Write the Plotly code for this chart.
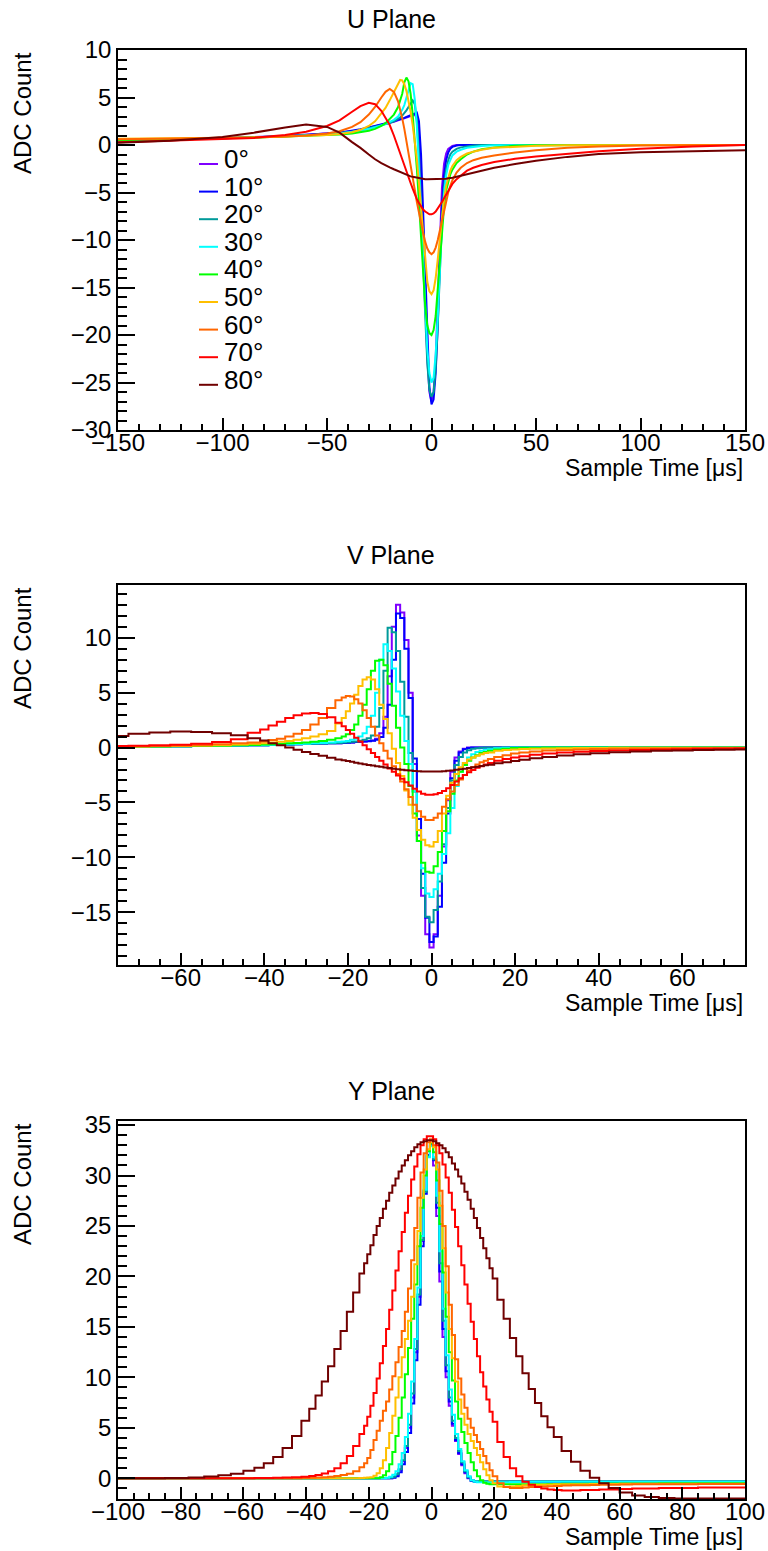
import plotly.graph_objects as go

W, H = 768, 1551
FONT = "Liberation Sans"

ANGLES = ["0°", "10°", "20°", "30°", "40°", "50°", "60°", "70°", "80°"]
COLORS = ["#7f00ff", "#0000ff", "#009a9a", "#00ffff", "#00ff00",
          "#ffbf00", "#ff6600", "#ff0000", "#700000"]

# ---------------- U plane (sample time in us, ADC counts) ----------------
U_T = [-150, -125, -100, -85, -70, -60, -50, -44, -38, -34,
       -30, -27, -24, -22, -20, -18, -16, -15, -14, -13,
       -12, -11, -10, -9, -8, -7, -6, -5, -4, -3,
       -2, -1, 0, 1, 2, 3, 4, 5, 6, 7,
       8, 9, 10, 12, 14, 17, 20, 24, 30, 40,
       50, 65, 80, 100, 125, 150]

U_00 = [0.4, 0.55, 0.7, 0.8, 0.95, 1.05, 1.2, 1.3, 1.45, 1.6,
        1.8, 1.95, 2.1, 2.2, 2.3, 2.45, 2.6, 2.65, 2.75, 2.8,
        2.9, 3.0, 3.05, 3.1, 3.2, 2.8, 1.0, -3.0, -9.0, -16.0,
        -22.5, -26.0, -27.0, -26.0, -22.5, -16.5, -9.5, -4.5, -2.0, -0.9,
        -0.4, -0.2, -0.1, 0, 0, 0, 0, 0, 0, 0,
        0, 0, 0, 0, 0, 0]
U_10 = [0.45, 0.55, 0.7, 0.8, 0.95, 1.05, 1.2, 1.3, 1.5, 1.65,
        1.85, 2.0, 2.15, 2.25, 2.4, 2.5, 2.65, 2.7, 2.8, 2.85,
        2.95, 3.05, 3.15, 3.25, 3.35, 3.4, 2.5, -1.0, -7.0, -14.0,
        -21.0, -25.5, -27.3, -26.8, -24.0, -19.0, -12.0, -6.5, -3.2, -1.6,
        -0.8, -0.4, -0.2, -0.05, 0, 0, 0, 0, 0, 0,
        0, 0, 0, 0, 0, 0]
U_20 = [0.45, 0.55, 0.7, 0.8, 0.9, 1.0, 1.15, 1.25, 1.4, 1.55,
        1.75, 1.9, 2.05, 2.15, 2.3, 2.5, 2.75, 2.9, 3.1, 3.35,
        3.65, 4.0, 4.4, 4.7, 4.3, 2.5, -1.0, -6.0, -12.0, -18.0,
        -23.0, -25.8, -26.5, -26.0, -23.5, -19.0, -13.0, -8.0, -4.5, -2.6,
        -1.6, -1.0, -0.7, -0.4, -0.25, -0.12, -0.05, 0, 0, 0,
        0, 0, 0, 0, 0, 0]
U_30 = [0.5, 0.55, 0.7, 0.8, 0.9, 1.0, 1.1, 1.2, 1.35, 1.5,
        1.7, 1.85, 2.05, 2.2, 2.4, 2.65, 3.0, 3.3, 3.7, 4.2,
        4.9, 5.8, 6.5, 6.4, 4.8, 2.0, -2.0, -7.0, -12.0, -17.0,
        -21.5, -24.0, -25.0, -24.5, -22.0, -18.0, -13.0, -8.5, -5.2, -3.2,
        -2.1, -1.5, -1.1, -0.7, -0.5, -0.3, -0.2, -0.1, -0.03, 0,
        0, 0, 0, 0, 0, 0]
U_40 = [0.5, 0.6, 0.75, 0.8, 0.9, 0.95, 1.05, 1.1, 1.2, 1.35,
        1.5, 1.7, 2.0, 2.3, 2.7, 3.2, 4.0, 4.6, 5.4, 6.6,
        7.1, 6.7, 5.4, 3.2, 0.5, -2.5, -6.0, -10.0, -14.0, -17.0,
        -19.0, -19.8, -20.0, -19.5, -18.0, -15.0, -12.0, -9.0, -6.5, -4.8,
        -3.8, -3.1, -2.6, -1.9, -1.5, -1.0, -0.7, -0.45, -0.25, -0.08,
        -0.02, 0, 0, 0, 0, 0]
U_50 = [0.65, 0.7, 0.75, 0.8, 0.9, 0.95, 1.05, 1.15, 1.35, 1.6,
        2.0, 2.5, 3.3, 3.9, 4.7, 5.6, 6.4, 6.85, 6.8, 6.4,
        5.7, 4.7, 3.5, 2.1, 0.5, -1.5, -4.0, -6.8, -9.8, -12.5,
        -14.4, -15.4, -15.7, -15.3, -14.0, -12.0, -9.8, -7.6, -5.7, -4.3,
        -3.4, -2.7, -2.2, -1.6, -1.25, -0.9, -0.7, -0.5, -0.3, -0.15,
        -0.07, -0.02, 0, 0, 0, 0]
U_60 = [0.6, 0.65, 0.7, 0.8, 0.9, 1.0, 1.2, 1.45, 1.9, 2.4,
        3.2, 4.0, 5.0, 5.6, 5.9, 5.6, 4.6, 3.8, 2.8, 1.7,
        0.5, -0.8, -2.1, -3.4, -4.7, -6.0, -7.2, -8.3, -9.3, -10.2,
        -10.9, -11.3, -11.5, -11.3, -10.8, -10.0, -9.0, -7.9, -6.8, -5.8,
        -5.0, -4.3, -3.7, -2.9, -2.4, -1.9, -1.6, -1.35, -1.1, -0.8,
        -0.55, -0.3, -0.15, -0.05, 0, 0]
U_70 = [0.3, 0.45, 0.6, 0.75, 1.05, 1.4, 2.0, 2.6, 3.5, 4.1,
        4.45, 4.3, 3.6, 2.9, 2.1, 1.0, -0.3, -0.9, -1.5, -2.1,
        -2.8, -3.4, -4.0, -4.6, -5.2, -5.7, -6.1, -6.5, -6.8, -7.0,
        -7.2, -7.3, -7.3, -7.2, -7.0, -6.7, -6.4, -6.0, -5.6, -5.2,
        -4.8, -4.4, -4.1, -3.6, -3.2, -2.7, -2.4, -2.1, -1.8, -1.45,
        -1.2, -0.9, -0.65, -0.4, -0.15, 0.0]
U_80 = [0.25, 0.45, 0.85, 1.3, 1.85, 2.15, 1.9, 1.3, 0.3, -0.3,
        -1.0, -1.5, -1.9, -2.15, -2.35, -2.55, -2.75, -2.85, -2.95, -3.05,
        -3.15, -3.2, -3.3, -3.35, -3.4, -3.45, -3.5, -3.55, -3.55, -3.6,
        -3.6, -3.6, -3.6, -3.6, -3.6, -3.6, -3.6, -3.6, -3.55, -3.55,
        -3.5, -3.5, -3.45, -3.35, -3.25, -3.1, -2.95, -2.7, -2.4, -2.0,
        -1.65, -1.25, -0.95, -0.75, -0.62, -0.55]

# ---------------- V plane ----------------
V_T = [-75, -70, -65, -60, -55, -50, -46, -42, -40, -38,
       -36, -34, -32, -30, -28, -26, -24, -22, -21, -20,
       -19, -18, -17, -16, -15, -14, -13, -12, -11, -10,
       -9, -8, -7, -6, -5, -4, -3, -2, -1, 0,
       1, 2, 3, 4, 5, 6, 7, 8, 9, 10,
       11, 12, 13, 14, 16, 18, 20, 22, 25, 28,
       32, 36, 40, 45, 50, 55, 60, 65, 70, 75]

V_00 = [0.1, 0.1, 0.1, 0.12, 0.14, 0.16, 0.18, 0.2, 0.22, 0.24,
        0.26, 0.28, 0.3, 0.32, 0.34, 0.36, 0.38, 0.4, 0.42, 0.44,
        0.46, 0.5, 0.52, 0.55, 0.6, 0.65, 0.8, 1.3, 2.8, 6.5,
        11.0, 13.0, 12.3, 9.8, 5.0, -1.5, -8.0, -13.5, -17.0, -18.2,
        -17.0, -13.5, -9.0, -4.8, -2.2, -0.9, -0.35, -0.1, 0, 0,
        0, 0, 0, 0, 0, 0, 0, 0, 0, 0,
        0, 0, 0, 0, 0, 0, 0, 0, 0, 0]
V_10 = [0.1, 0.1, 0.1, 0.12, 0.14, 0.16, 0.18, 0.2, 0.22, 0.24,
        0.26, 0.28, 0.3, 0.32, 0.34, 0.36, 0.38, 0.4, 0.42, 0.44,
        0.46, 0.5, 0.52, 0.55, 0.58, 0.62, 0.7, 0.95, 1.8, 3.9,
        8.0, 12.2, 11.8, 9.0, 4.5, -1.0, -6.5, -11.5, -15.5, -17.7,
        -17.2, -14.5, -10.5, -6.0, -2.8, -1.2, -0.45, -0.15, -0.05, 0,
        0, 0, 0, 0, 0, 0, 0, 0, 0, 0,
        0, 0, 0, 0, 0, 0, 0, 0, 0, 0]
V_20 = [0.1, 0.1, 0.1, 0.12, 0.14, 0.16, 0.18, 0.2, 0.22, 0.24,
        0.26, 0.28, 0.3, 0.32, 0.34, 0.36, 0.38, 0.42, 0.45, 0.48,
        0.52, 0.56, 0.62, 0.7, 0.85, 1.1, 1.9, 3.6, 7.0, 10.9,
        10.5, 8.8, 6.0, 2.8, -0.5, -4.0, -8.5, -12.8, -15.4, -15.9,
        -14.8, -12.2, -8.8, -5.5, -3.0, -1.6, -0.85, -0.45, -0.25, -0.12,
        -0.06, -0.03, 0, 0, 0, 0, 0, 0, 0, 0,
        0, 0, 0, 0, 0, 0, 0, 0, 0, 0]
V_30 = [0.1, 0.1, 0.1, 0.12, 0.14, 0.16, 0.18, 0.2, 0.22, 0.25,
        0.27, 0.3, 0.32, 0.35, 0.38, 0.42, 0.46, 0.52, 0.56, 0.6,
        0.7, 0.8, 1.0, 1.3, 1.9, 2.9, 5.0, 8.0, 9.4, 8.8,
        7.2, 5.1, 2.9, 0.6, -1.5, -4.0, -7.5, -11.0, -13.3, -13.6,
        -12.9, -11.5, -9.7, -7.8, -5.5, -3.5, -2.2, -1.4, -0.9, -0.6,
        -0.4, -0.3, -0.2, -0.15, -0.07, -0.03, 0, 0, 0, 0,
        0, 0, 0, 0, 0, 0, 0, 0, 0, 0]
V_40 = [0.1, 0.1, 0.1, 0.12, 0.14, 0.16, 0.2, 0.24, 0.27, 0.3,
        0.34, 0.38, 0.42, 0.47, 0.52, 0.6, 0.7, 0.85, 1.0, 1.2,
        1.6, 2.1, 2.9, 3.9, 5.3, 7.0, 7.9, 8.0, 7.5, 5.8,
        3.8, 1.8, 0.0, -1.5, -3.5, -6.0, -8.5, -10.5, -11.3, -11.4,
        -10.8, -9.5, -7.6, -5.8, -4.2, -3.0, -2.2, -1.6, -1.2, -0.9,
        -0.7, -0.5, -0.4, -0.3, -0.18, -0.1, -0.05, -0.03, -0.02, 0,
        0, 0, 0, 0, 0, 0, 0, 0, 0, 0]
V_50 = [0.1, 0.1, 0.12, 0.14, 0.18, 0.22, 0.28, 0.35, 0.4, 0.45,
        0.52, 0.6, 0.7, 0.85, 1.0, 1.2, 1.5, 2.2, 2.7, 3.3,
        4.0, 4.8, 5.6, 6.2, 6.4, 6.2, 5.3, 3.9, 2.6, 1.3,
        -0.1, -1.4, -2.6, -3.9, -5.2, -6.4, -7.5, -8.4, -8.9, -9.0,
        -8.6, -7.6, -6.0, -4.4, -3.2, -2.4, -1.8, -1.4, -1.1, -0.9,
        -0.75, -0.6, -0.5, -0.45, -0.3, -0.22, -0.18, -0.14, -0.1, -0.08,
        -0.06, -0.05, -0.04, -0.03, -0.03, -0.02, -0.02, -0.02, -0.02, -0.02]
V_60 = [0.1, 0.12, 0.15, 0.18, 0.22, 0.3, 0.38, 0.45, 0.55, 0.68,
        0.8, 1.0, 1.25, 1.6, 2.1, 2.7, 3.6, 4.3, 4.55, 4.7,
        4.65, 4.4, 4.0, 3.4, 2.7, 1.9, 1.1, 0.4, -0.3, -1.0,
        -1.7, -2.4, -3.1, -3.8, -4.5, -5.2, -5.8, -6.3, -6.6, -6.6,
        -6.4, -6.0, -5.4, -4.7, -4.0, -3.4, -2.9, -2.5, -2.1, -1.8,
        -1.55, -1.35, -1.2, -1.05, -0.85, -0.7, -0.55, -0.45, -0.35, -0.28,
        -0.22, -0.17, -0.14, -0.11, -0.09, -0.08, -0.07, -0.06, -0.05, -0.05]
V_70 = [0.15, 0.17, 0.2, 0.25, 0.35, 0.5, 0.75, 1.35, 1.65, 2.0,
        2.35, 2.7, 2.95, 3.1, 3.15, 3.05, 2.75, 2.25, 1.95, 1.6,
        1.25, 0.9, 0.55, 0.2, -0.15, -0.5, -0.85, -1.2, -1.55, -1.9,
        -2.2, -2.55, -2.85, -3.15, -3.45, -3.75, -4.0, -4.2, -4.3, -4.3,
        -4.25, -4.15, -3.95, -3.7, -3.4, -3.1, -2.8, -2.5, -2.25, -2.05,
        -1.85, -1.7, -1.55, -1.4, -1.2, -1.05, -0.9, -0.8, -0.65, -0.55,
        -0.45, -0.38, -0.32, -0.26, -0.22, -0.18, -0.15, -0.12, -0.1, -0.08]
V_80 = [1.05, 1.25, 1.38, 1.45, 1.42, 1.3, 1.12, 0.85, 0.65, 0.4,
        0.2, 0.0, -0.2, -0.4, -0.58, -0.75, -0.92, -1.08, -1.15, -1.22,
        -1.3, -1.38, -1.45, -1.52, -1.58, -1.64, -1.7, -1.76, -1.82, -1.87,
        -1.92, -1.97, -2.02, -2.06, -2.1, -2.13, -2.15, -2.17, -2.18, -2.18,
        -2.18, -2.17, -2.15, -2.12, -2.08, -2.03, -1.98, -1.92, -1.86, -1.8,
        -1.74, -1.68, -1.62, -1.56, -1.44, -1.33, -1.22, -1.12, -0.98, -0.86,
        -0.72, -0.61, -0.52, -0.43, -0.36, -0.3, -0.26, -0.22, -0.19, -0.17]

# ---------------- Y (collection) plane ----------------
Y_T = [-100, -90, -80, -75, -70, -66, -62, -58, -55, -52,
       -49, -46, -43, -40, -38, -36, -34, -32, -30, -28,
       -26, -24, -22, -21, -20, -19, -18, -17, -16, -15,
       -14, -13, -12, -11, -10, -9, -8, -7, -6, -5,
       -4, -3, -2, -1, 0, 1, 2, 3, 4, 5,
       6, 7, 8, 9, 10, 11, 12, 13, 14, 15,
       16, 17, 18, 19, 20, 22, 24, 26, 28, 30,
       32, 34, 36, 38, 40, 43, 46, 49, 52, 55,
       58, 62, 66, 70, 75, 80, 90, 100]

Y_00 = [0, 0, 0, 0, 0, 0, 0, 0, 0, 0,
        0, 0, 0, 0, 0, 0, 0, 0, 0, 0,
        0, 0, 0, 0, 0, 0, 0, 0, 0, 0,
        0, 0, 0.1, 0.3, 0.8, 1.7, 3.0, 5.0, 8.0, 12.5,
        18.0, 23.5, 28.5, 32.0, 33.0, 31.0, 26.0, 19.5, 14.0, 10.0,
        7.2, 5.2, 3.7, 2.4, 1.3, 0.5, 0.0, -0.25, -0.35, -0.35,
        -0.35, -0.35, -0.35, -0.35, -0.35, -0.35, -0.35, -0.35, -0.35, -0.35,
        -0.35, -0.35, -0.35, -0.35, -0.35, -0.35, -0.35, -0.35, -0.35, -0.35,
        -0.35, -0.35, -0.35, -0.35, -0.35, -0.35, -0.35, -0.35]
Y_10 = [0, 0, 0, 0, 0, 0, 0, 0, 0, 0,
        0, 0, 0, 0, 0, 0, 0, 0, 0, 0,
        0, 0, 0, 0, 0, 0, 0, 0, 0, 0,
        0, 0, 0.05, 0.2, 0.6, 1.4, 2.6, 4.5, 7.4, 11.7,
        17.2, 23.0, 28.2, 32.0, 33.3, 31.5, 26.8, 20.5, 14.8, 10.6,
        7.6, 5.4, 3.8, 2.5, 1.4, 0.6, 0.05, -0.25, -0.35, -0.35,
        -0.35, -0.35, -0.35, -0.35, -0.35, -0.35, -0.35, -0.35, -0.35, -0.35,
        -0.35, -0.35, -0.35, -0.35, -0.35, -0.35, -0.35, -0.35, -0.35, -0.35,
        -0.35, -0.35, -0.35, -0.35, -0.33, -0.33, -0.33, -0.33]
Y_20 = [0, 0, 0, 0, 0, 0, 0, 0, 0, 0,
        0, 0, 0, 0, 0, 0, 0, 0, 0, 0,
        0, 0, 0, 0, 0, 0, 0, 0, 0, 0,
        0, 0.05, 0.15, 0.4, 0.9, 1.8, 3.2, 5.3, 8.4, 12.8,
        18.2, 23.6, 28.4, 31.9, 33.0, 31.6, 27.3, 21.3, 15.6, 11.2,
        8.0, 5.7, 4.0, 2.7, 1.6, 0.7, 0.1, -0.2, -0.3, -0.3,
        -0.3, -0.3, -0.3, -0.3, -0.3, -0.3, -0.3, -0.3, -0.3, -0.3,
        -0.3, -0.3, -0.3, -0.3, -0.3, -0.3, -0.3, -0.3, -0.3, -0.3,
        -0.3, -0.3, -0.3, -0.3, -0.3, -0.3, -0.3, -0.3]
Y_30 = [0, 0, 0, 0, 0, 0, 0, 0, 0, 0,
        0, 0, 0, 0, 0, 0, 0, 0, 0, 0,
        0, 0, 0, 0, 0, 0, 0, 0, 0, 0,
        0.05, 0.15, 0.35, 0.7, 1.4, 2.5, 4.1, 6.4, 9.6, 13.8,
        18.9, 24.0, 28.6, 31.8, 32.9, 31.8, 28.0, 22.5, 16.8, 12.2,
        8.8, 6.3, 4.4, 2.9, 1.7, 0.8, 0.2, -0.2, -0.35, -0.4,
        -0.4, -0.4, -0.4, -0.4, -0.4, -0.4, -0.38, -0.37, -0.36, -0.35,
        -0.35, -0.35, -0.35, -0.35, -0.35, -0.35, -0.35, -0.35, -0.35, -0.35,
        -0.35, -0.34, -0.34, -0.33, -0.33, -0.33, -0.33, -0.33]
Y_40 = [0, 0, 0, 0, 0, 0, 0, 0, 0, 0,
        0, 0, 0, 0, 0, 0, 0, 0, 0, 0,
        0, 0, 0, 0, 0, 0, 0, 0, 0.1, 0.3,
        0.7, 1.4, 2.6, 4.2, 6.0, 8.0, 10.3, 12.9, 15.8, 19.2,
        23.0, 26.8, 30.0, 32.4, 33.2, 32.3, 29.5, 25.2, 20.4, 16.0,
        12.5, 9.7, 7.6, 5.9, 4.6, 3.5, 2.5, 1.6, 0.8, 0.2,
        -0.2, -0.45, -0.55, -0.6, -0.6, -0.6, -0.6, -0.6, -0.6, -0.6,
        -0.6, -0.58, -0.58, -0.56, -0.56, -0.55, -0.55, -0.54, -0.53, -0.52,
        -0.52, -0.52, -0.51, -0.51, -0.5, -0.5, -0.5, -0.5]
Y_50 = [0, 0, 0, 0, 0, 0, 0, 0, 0, 0,
        0, 0, 0, 0, 0, 0, 0, 0, 0, 0,
        0, 0, 0.02, 0.05, 0.08, 0.1, 0.25, 0.5, 1.0, 1.8,
        3.0, 4.5, 6.2, 8.0, 10.0, 12.0, 13.8, 15.6, 18.0, 21.2,
        24.5, 27.8, 30.6, 32.6, 33.3, 32.8, 30.6, 27.0, 22.8, 18.4,
        14.8, 11.9, 9.6, 7.8, 6.4, 5.3, 4.4, 3.7, 3.0, 2.3,
        1.6, 0.9, 0.3, -0.2, -0.5, -0.8, -0.85, -0.8, -0.75, -0.7,
        -0.68, -0.66, -0.64, -0.62, -0.6, -0.6, -0.58, -0.58, -0.57, -0.56,
        -0.56, -0.55, -0.55, -0.55, -0.55, -0.55, -0.55, -0.55]
Y_60 = [0, 0, 0, 0, 0, 0, 0, 0, 0, 0,
        0, 0, 0, 0.03, 0.05, 0.07, 0.1, 0.15, 0.22, 0.32,
        0.45, 0.7, 1.1, 1.5, 2.0, 2.8, 3.8, 4.7, 5.7, 6.7,
        7.6, 8.8, 10.1, 11.5, 13.0, 14.6, 16.5, 18.8, 21.6, 24.8,
        27.8, 30.3, 32.2, 33.3, 33.6, 33.0, 31.3, 28.5, 25.0, 21.0,
        17.2, 14.2, 11.8, 9.9, 8.3, 7.0, 5.9, 5.0, 4.3, 3.6,
        2.9, 2.2, 1.5, 0.8, 0.2, -0.5, -0.85, -0.95, -0.95, -0.9,
        -0.85, -0.82, -0.8, -0.78, -0.75, -0.72, -0.7, -0.68, -0.66, -0.65,
        -0.64, -0.62, -0.6, -0.6, -0.6, -0.58, -0.57, -0.56]
Y_70 = [0, 0, 0, 0, 0, 0, 0, 0, 0.02, 0.03,
        0.05, 0.07, 0.1, 0.16, 0.23, 0.33, 0.48, 0.7, 1.0, 1.5,
        2.2, 3.2, 4.4, 5.2, 6.1, 7.2, 8.45, 9.9, 11.4, 13.1,
        14.8, 16.7, 18.6, 20.6, 22.5, 24.4, 26.3, 28.0, 29.6, 30.9,
        32.1, 33.0, 33.6, 33.9, 33.9, 33.6, 33.0, 32.2, 31.1, 29.8,
        28.3, 26.6, 24.9, 23.0, 21.1, 19.2, 17.3, 15.5, 13.8, 12.1,
        10.5, 9.1, 7.8, 6.6, 5.6, 3.6, 2.1, 1.0, 0.2, -0.35,
        -0.65, -0.85, -1.0, -1.1, -1.15, -1.2, -1.2, -1.15, -1.15, -1.1,
        -1.1, -1.05, -1.0, -1.0, -0.95, -0.95, -0.9, -0.9]
Y_80 = [0, 0.01, 0.04, 0.08, 0.18, 0.3, 0.45, 0.75, 1.05, 1.5,
        2.1, 3.0, 4.2, 5.7, 6.9, 8.2, 9.6, 11.1, 12.8, 14.6,
        16.5, 18.4, 20.3, 21.3, 22.2, 23.1, 24.1, 25.0, 25.8, 26.7,
        27.5, 28.3, 29.0, 29.7, 30.4, 31.0, 31.5, 32.0, 32.4, 32.8,
        33.1, 33.3, 33.4, 33.5, 33.5, 33.4, 33.2, 33.0, 32.7, 32.3,
        31.8, 31.2, 30.6, 29.9, 29.2, 28.4, 27.6, 26.7, 25.8, 24.8,
        23.8, 22.8, 21.8, 20.8, 19.8, 17.7, 15.8, 13.9, 12.1, 10.4,
        8.85, 7.45, 6.15, 5.05, 4.1, 2.7, 1.65, 0.75, 0.05, -0.5,
        -0.95, -1.4, -1.7, -1.85, -1.95, -2.0, -2.0, -2.0]

U_SERIES = [U_00, U_10, U_20, U_30, U_40, U_50, U_60, U_70, U_80]
V_SERIES = [V_00, V_10, V_20, V_30, V_40, V_50, V_60, V_70, V_80]
Y_SERIES = [Y_00, Y_10, Y_20, Y_30, Y_40, Y_50, Y_60, Y_70, Y_80]

for name, t, ss in (("U", U_T, U_SERIES), ("V", V_T, V_SERIES), ("Y", Y_T, Y_SERIES)):
    for k, s in enumerate(ss):
        if len(s) != len(t):
            raise ValueError(f"{name} series {k}: {len(s)} values vs {len(t)} times")


def fx(p):
    return p / W


def fy(p):
    return 1 - p / H


PANELS = [
    dict(title="U Plane", t=U_T, series=U_SERIES, xr=[-150, 150], yr=[-30, 10],
         xd=50, xm=10, top=50, bot=430, shape="linear", ty=19, xtitle_y=468),
    dict(title="V Plane", t=V_T, series=V_SERIES, xr=[-75, 75], yr=[-19.8, 14.8],
         xd=20, xm=5, top=585, bot=965, shape="hvh", ty=555, xtitle_y=1003),
    dict(title="Y Plane", t=Y_T, series=Y_SERIES, xr=[-100, 100], yr=[-2.05, 35.4],
         xd=20, xm=5, top=1121, bot=1499, shape="hvh", ty=1091, xtitle_y=1537),
]

X0, X1 = 118, 745
TICKFONT = dict(family=FONT, size=24, color="black")

fig = go.Figure()
layout = {}
annotations = []
shapes = []

for i, p in enumerate(PANELS):
    sfx = "" if i == 0 else str(i + 1)
    xa, ya = "x" + sfx, "y" + sfx
    for s, c in zip(p["series"], COLORS):
        fig.add_trace(go.Scatter(x=p["t"], y=s, mode="lines", xaxis=xa, yaxis=ya,
                                 line=dict(color=c, width=2, shape=p["shape"]),
                                 showlegend=False, hoverinfo="skip"))
    layout["xaxis" + sfx] = dict(
        domain=[fx(X0), fx(X1)], anchor=ya, range=p["xr"], automargin=False,
        tickmode="linear", tick0=0, dtick=p["xd"],
        ticks="inside", ticklen=12, tickwidth=1.5, tickcolor="black",
        ticklabelstandoff=-10,
        minor=dict(ticks="inside", ticklen=6, tickwidth=1.5, tickcolor="black",
                   tick0=0, dtick=p["xm"], showgrid=False),
        showline=True, linecolor="black", linewidth=1.5, mirror=True,
        showgrid=False, zeroline=False, tickfont=TICKFONT, fixedrange=True)
    layout["yaxis" + sfx] = dict(
        domain=[fy(p["bot"]), fy(p["top"])], anchor=xa, range=p["yr"], automargin=False,
        tickmode="linear", tick0=0, dtick=5,
        ticks="inside", ticklen=17, tickwidth=1.5, tickcolor="black",
        minor=dict(ticks="inside", ticklen=9, tickwidth=1.5, tickcolor="black",
                   tick0=0, dtick=1, showgrid=False),
        showline=True, linecolor="black", linewidth=1.5, mirror=True,
        showgrid=False, zeroline=False, tickfont=TICKFONT, fixedrange=True)
    annotations.append(dict(text=p["title"], x=fx(391), y=fy(p["ty"]), xref="paper", yref="paper",
                            xanchor="center", yanchor="middle", showarrow=False,
                            font=dict(family=FONT, size=25, color="black")))
    annotations.append(dict(text="ADC Count", x=fx(22), y=fy(p["top"]), xref="paper", yref="paper",
                            xanchor="center", yanchor="top", textangle=-90, showarrow=False,
                            font=dict(family=FONT, size=24, color="black")))
    annotations.append(dict(text="Sample Time [μs]", x=fx(X1), y=fy(p["xtitle_y"]), xref="paper",
                            yref="paper", xanchor="right", yanchor="middle", showarrow=False,
                            font=dict(family=FONT, size=23, color="black")))

# legend (U panel)
LEG_Y0, LEG_DY = 159, 27.6
for k, (lab, c) in enumerate(zip(ANGLES, COLORS)):
    yc = LEG_Y0 + LEG_DY * k
    shapes.append(dict(type="line", xref="paper", yref="paper", x0=fx(199), x1=fx(218),
                       y0=fy(yc + 5), y1=fy(yc + 5), line=dict(color=c, width=2)))
    annotations.append(dict(text=lab, x=fx(222), y=fy(yc), xref="paper", yref="paper",
                            xanchor="left", yanchor="middle", showarrow=False,
                            font=dict(family=FONT, size=26, color="black")))

fig.update_layout(
    template="none",
    width=W, height=H, autosize=False,
    margin=dict(l=0, r=0, t=0, b=0, pad=0),
    paper_bgcolor="white", plot_bgcolor="white",
    annotations=annotations, shapes=shapes,
    **layout)

fig.write_html("out.html", config={"displayModeBar": False},
               post_script="document.body.style.margin='0';")
